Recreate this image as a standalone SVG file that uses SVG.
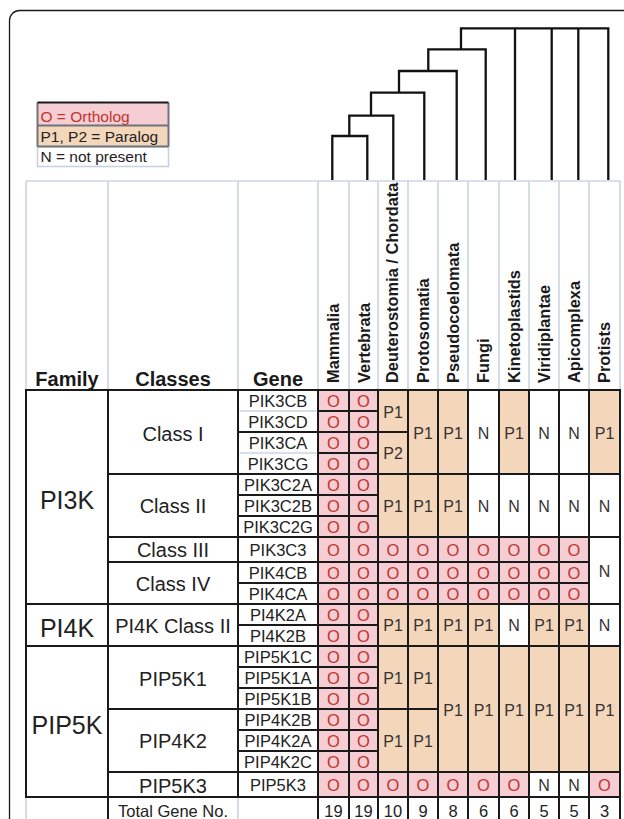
<svg xmlns="http://www.w3.org/2000/svg" width="624" height="819" viewBox="0 0 624 819">
<style>
.cell{stroke:#1a1a1a;stroke-width:2}
.o{fill:#f5cdd2}.p{fill:#f4d6bb}.w{fill:#fff}
.grid{stroke:#cbd6e2;stroke-width:1.6;fill:none}
.tree{stroke:#111;stroke-width:2.3;fill:none}
text{font-family:"Liberation Sans",Arial,sans-serif}
.to{font-size:16.5px;fill:#c0352f;text-anchor:middle}
.tp{font-size:16px;fill:#333;text-anchor:middle}
.tn{font-size:16.5px;fill:#222;text-anchor:middle}
.hd{font-size:20px;font-weight:bold;fill:#1a1a1a;text-anchor:middle}
.sp{font-size:16.4px;font-weight:bold;fill:#1a1a1a}
.fam{font-size:25px;fill:#222;text-anchor:middle}
.cls{font-size:20px;fill:#222;text-anchor:middle}
.gene{font-size:16.5px;fill:#222;text-anchor:middle}
.lg{font-size:15.5px}
</style>
<rect x="9.5" y="10.5" width="660" height="860" rx="10" fill="#fff" stroke="#1a1a1a" stroke-width="1.3"/>

<g id="legend">
<rect x="37.5" y="102.5" width="131" height="23" fill="#f5cdd2"/>
<rect x="37.5" y="125.5" width="131" height="21" fill="#f4d6bb"/>
<rect x="37.5" y="146.5" width="131" height="20" fill="#fff" stroke="#c5d3e3" stroke-width="1.6"/>
<path d="M37.5,102.5V146.5M168.5,102.5V146.5M37.5,125.5H168.5M37.5,146.5H168.5" stroke="#6e747c" stroke-width="2" fill="none"/>
<path d="M37.5,102.5H168.5" stroke="#1a1a1a" stroke-width="2.2"/>
<text x="40.5" y="121.5" class="lg" fill="#c0352f">O = Ortholog</text>
<text x="40.5" y="141.8" class="lg" fill="#222">P1, P2 = Paralog</text>
<text x="40.5" y="162.3" class="lg" fill="#222">N = not present</text>
</g>

<g id="connectors">
<path class="tree" d="M332.3,180V136H367.3V180M349.3,136V115.7H393.3V180M371,115.7V92.7H424.3V180M399,92.7V71H456.7V180M428.3,71V49.3H485.7V180M461,49.3V28.3H608.3V180M515,28.3V180M551.7,28.3V180M578.3,28.3V180"/>
</g>

<g id="header">
<path class="grid" d="M26,181H620M26,181V390M108,181V390M238,181V390M318,181V390M349,181V390M378,181V390M408,181V390M438,181V390M468,181V390M499,181V390M529,181V390M559,181V390M589,181V390M620,181V390"/>
<text x="67" y="386" class="hd">Family</text>
<text x="173" y="386" class="hd">Classes</text>
<text x="278" y="386" class="hd">Gene</text>
<text class="sp" transform="translate(338.5,383) rotate(-90)">Mammalia</text>
<text class="sp" transform="translate(369.5,383) rotate(-90)">Vertebrata</text>
<text class="sp" transform="translate(397.5,383) rotate(-90)">Deuterostomia / Chordata</text>
<text class="sp" transform="translate(428.5,383) rotate(-90)">Protosomatia</text>
<text class="sp" transform="translate(459,383) rotate(-90)">Pseudocoelomata</text>
<text class="sp" transform="translate(489,383) rotate(-90)">Fungi</text>
<text class="sp" transform="translate(520,383) rotate(-90)">Kinetoplastids</text>
<text class="sp" transform="translate(550,383) rotate(-90)">Viridiplantae</text>
<text class="sp" transform="translate(580,383) rotate(-90)">Apicomplexa</text>
<text class="sp" transform="translate(610,383) rotate(-90)">Protists</text>
</g>

<g id="families">
<rect class="cell w" x="26" y="390" width="82" height="214"/>
<rect class="cell w" x="26" y="604" width="82" height="42"/>
<rect class="cell w" x="26" y="646" width="82" height="151"/>
<text x="67" y="509" class="fam">PI3K</text>
<text x="67" y="637" class="fam">PI4K</text>
<text x="67" y="734" class="fam">PIP5K</text>
<path class="grid" d="M26,798V822"/>
</g>

<g id="classes">
<rect class="cell w" x="108" y="390" width="130" height="84"/>
<rect class="cell w" x="108" y="474" width="130" height="63"/>
<rect class="cell w" x="108" y="537" width="130" height="25"/>
<rect class="cell w" x="108" y="562" width="130" height="42"/>
<rect class="cell w" x="108" y="604" width="130" height="42"/>
<rect class="cell w" x="108" y="646" width="130" height="63"/>
<rect class="cell w" x="108" y="709" width="130" height="63"/>
<rect class="cell w" x="108" y="772" width="130" height="25"/>
<path class="grid" d="M238,798V822"/>
<path d="M108,797V822" stroke="#1a1a1a" stroke-width="2"/>
<text x="173" y="441" class="cls">Class I</text>
<text x="173" y="512.5" class="cls">Class II</text>
<text x="173" y="556.5" class="cls">Class III</text>
<text x="173" y="591" class="cls">Class IV</text>
<text x="173" y="633" class="cls">PI4K Class II</text>
<text x="173" y="686" class="cls">PIP5K1</text>
<text x="173" y="748.3" class="cls">PIP4K2</text>
<text x="173" y="793" class="cls">PIP5K3</text>
<text x="173" y="816.5" class="tn">Total Gene No.</text>
</g>

<g id="genes">
<rect class="cell w" x="238" y="390" width="80" height="42"/>
<rect class="cell w" x="238" y="432" width="80" height="42"/>
<rect class="cell w" x="238" y="474" width="80" height="21"/>
<rect class="cell w" x="238" y="495" width="80" height="21"/>
<rect class="cell w" x="238" y="516" width="80" height="21"/>
<rect class="cell w" x="238" y="537" width="80" height="25"/>
<rect class="cell w" x="238" y="562" width="80" height="21"/>
<rect class="cell w" x="238" y="583" width="80" height="21"/>
<rect class="cell w" x="238" y="604" width="80" height="21"/>
<rect class="cell w" x="238" y="625" width="80" height="21"/>
<rect class="cell w" x="238" y="646" width="80" height="21"/>
<rect class="cell w" x="238" y="667" width="80" height="21"/>
<rect class="cell w" x="238" y="688" width="80" height="21"/>
<rect class="cell w" x="238" y="709" width="80" height="21"/>
<rect class="cell w" x="238" y="730" width="80" height="21"/>
<rect class="cell w" x="238" y="751" width="80" height="21"/>
<rect class="cell w" x="238" y="772" width="80" height="25"/>
<path class="grid" d="M239.5,411H316.5M239.5,453H316.5"/>
<text x="278" y="406.5" class="gene">PIK3CB</text>
<text x="278" y="427.5" class="gene">PIK3CD</text>
<text x="278" y="448.5" class="gene">PIK3CA</text>
<text x="278" y="469.5" class="gene">PIK3CG</text>
<text x="278" y="490.5" class="gene">PIK3C2A</text>
<text x="278" y="511.5" class="gene">PIK3C2B</text>
<text x="278" y="532.5" class="gene">PIK3C2G</text>
<text x="278" y="555.5" class="gene">PIK3C3</text>
<text x="278" y="578.5" class="gene">PIK4CB</text>
<text x="278" y="599.5" class="gene">PIK4CA</text>
<text x="278" y="620.5" class="gene">PI4K2A</text>
<text x="278" y="641.5" class="gene">PI4K2B</text>
<text x="278" y="662.5" class="gene">PIP5K1C</text>
<text x="278" y="683.5" class="gene">PIP5K1A</text>
<text x="278" y="704.5" class="gene">PIP5K1B</text>
<text x="278" y="725.5" class="gene">PIP4K2B</text>
<text x="278" y="746.5" class="gene">PIP4K2A</text>
<text x="278" y="767.5" class="gene">PIP4K2C</text>
<text x="278" y="790.5" class="gene">PIP5K3</text>
</g>

<g id="col-mammalia">
<rect class="cell o" x="318" y="390" width="31" height="21"/><rect class="cell o" x="318" y="411" width="31" height="21"/>
<rect class="cell o" x="318" y="432" width="31" height="21"/><rect class="cell o" x="318" y="453" width="31" height="21"/>
<rect class="cell o" x="318" y="474" width="31" height="21"/><rect class="cell o" x="318" y="495" width="31" height="21"/>
<rect class="cell o" x="318" y="516" width="31" height="21"/><rect class="cell o" x="318" y="537" width="31" height="25"/>
<rect class="cell o" x="318" y="562" width="31" height="21"/><rect class="cell o" x="318" y="583" width="31" height="21"/>
<rect class="cell o" x="318" y="604" width="31" height="21"/><rect class="cell o" x="318" y="625" width="31" height="21"/>
<rect class="cell o" x="318" y="646" width="31" height="21"/><rect class="cell o" x="318" y="667" width="31" height="21"/>
<rect class="cell o" x="318" y="688" width="31" height="21"/><rect class="cell o" x="318" y="709" width="31" height="21"/>
<rect class="cell o" x="318" y="730" width="31" height="21"/><rect class="cell o" x="318" y="751" width="31" height="21"/>
<rect class="cell o" x="318" y="772" width="31" height="25"/>
<rect class="cell w" x="318" y="797" width="31" height="25"/>
<g class="to">
<text x="333.5" y="406.5">O</text><text x="333.5" y="427.5">O</text><text x="333.5" y="448.5">O</text><text x="333.5" y="469.5">O</text>
<text x="333.5" y="490.5">O</text><text x="333.5" y="511.5">O</text><text x="333.5" y="532.5">O</text><text x="333.5" y="555.5">O</text>
<text x="333.5" y="578.5">O</text><text x="333.5" y="599.5">O</text><text x="333.5" y="620.5">O</text><text x="333.5" y="641.5">O</text>
<text x="333.5" y="662.5">O</text><text x="333.5" y="683.5">O</text><text x="333.5" y="704.5">O</text><text x="333.5" y="725.5">O</text>
<text x="333.5" y="746.5">O</text><text x="333.5" y="767.5">O</text><text x="333.5" y="790.5">O</text>
</g>
<text x="333.5" y="816.5" class="tn">19</text>
</g>

<g id="col-vertebrata">
<rect class="cell o" x="349" y="390" width="29" height="21"/><rect class="cell o" x="349" y="411" width="29" height="21"/>
<rect class="cell o" x="349" y="432" width="29" height="21"/><rect class="cell o" x="349" y="453" width="29" height="21"/>
<rect class="cell o" x="349" y="474" width="29" height="21"/><rect class="cell o" x="349" y="495" width="29" height="21"/>
<rect class="cell o" x="349" y="516" width="29" height="21"/><rect class="cell o" x="349" y="537" width="29" height="25"/>
<rect class="cell o" x="349" y="562" width="29" height="21"/><rect class="cell o" x="349" y="583" width="29" height="21"/>
<rect class="cell o" x="349" y="604" width="29" height="21"/><rect class="cell o" x="349" y="625" width="29" height="21"/>
<rect class="cell o" x="349" y="646" width="29" height="21"/><rect class="cell o" x="349" y="667" width="29" height="21"/>
<rect class="cell o" x="349" y="688" width="29" height="21"/><rect class="cell o" x="349" y="709" width="29" height="21"/>
<rect class="cell o" x="349" y="730" width="29" height="21"/><rect class="cell o" x="349" y="751" width="29" height="21"/>
<rect class="cell o" x="349" y="772" width="29" height="25"/>
<rect class="cell w" x="349" y="797" width="29" height="25"/>
<g class="to">
<text x="363.5" y="406.5">O</text><text x="363.5" y="427.5">O</text><text x="363.5" y="448.5">O</text><text x="363.5" y="469.5">O</text>
<text x="363.5" y="490.5">O</text><text x="363.5" y="511.5">O</text><text x="363.5" y="532.5">O</text><text x="363.5" y="555.5">O</text>
<text x="363.5" y="578.5">O</text><text x="363.5" y="599.5">O</text><text x="363.5" y="620.5">O</text><text x="363.5" y="641.5">O</text>
<text x="363.5" y="662.5">O</text><text x="363.5" y="683.5">O</text><text x="363.5" y="704.5">O</text><text x="363.5" y="725.5">O</text>
<text x="363.5" y="746.5">O</text><text x="363.5" y="767.5">O</text><text x="363.5" y="790.5">O</text>
</g>
<text x="363.5" y="816.5" class="tn">19</text>
</g>

<g id="col-deuterostomia">
<rect class="cell p" x="378" y="390" width="30" height="42"/>
<rect class="cell p" x="378" y="432" width="30" height="42"/>
<rect class="cell p" x="378" y="474" width="30" height="63"/>
<rect class="cell o" x="378" y="537" width="30" height="25"/>
<rect class="cell o" x="378" y="562" width="30" height="21"/>
<rect class="cell o" x="378" y="583" width="30" height="21"/>
<rect class="cell p" x="378" y="604" width="30" height="42"/>
<rect class="cell p" x="378" y="646" width="30" height="63"/>
<rect class="cell p" x="378" y="709" width="30" height="63"/>
<rect class="cell o" x="378" y="772" width="30" height="25"/>
<rect class="cell w" x="378" y="797" width="30" height="25"/>
<g class="tp"><text x="393" y="417.5">P1</text><text x="393" y="459">P2</text><text x="393" y="511.5">P1</text><text x="393" y="631">P1</text><text x="393" y="683.5">P1</text><text x="393" y="746.5">P1</text></g>
<g class="to"><text x="393" y="555.5">O</text><text x="393" y="578.5">O</text><text x="393" y="599.5">O</text><text x="393" y="790.5">O</text></g>
<text x="393" y="816.5" class="tn">10</text>
</g>

<g id="col-protosomatia">
<rect class="cell p" x="408" y="390" width="30" height="84"/>
<rect class="cell p" x="408" y="474" width="30" height="63"/>
<rect class="cell o" x="408" y="537" width="30" height="25"/>
<rect class="cell o" x="408" y="562" width="30" height="21"/>
<rect class="cell o" x="408" y="583" width="30" height="21"/>
<rect class="cell p" x="408" y="604" width="30" height="42"/>
<rect class="cell p" x="408" y="646" width="30" height="63"/>
<rect class="cell p" x="408" y="709" width="30" height="63"/>
<rect class="cell o" x="408" y="772" width="30" height="25"/>
<rect class="cell w" x="408" y="797" width="30" height="25"/>
<g class="tp"><text x="423" y="438.5">P1</text><text x="423" y="511.5">P1</text><text x="423" y="631">P1</text><text x="423" y="683.5">P1</text><text x="423" y="746.5">P1</text></g>
<g class="to"><text x="423" y="555.5">O</text><text x="423" y="578.5">O</text><text x="423" y="599.5">O</text><text x="423" y="790.5">O</text></g>
<text x="423" y="816.5" class="tn">9</text>
</g>

<g id="col-pseudocoelomata">
<rect class="cell p" x="438" y="390" width="30" height="84"/>
<rect class="cell p" x="438" y="474" width="30" height="63"/>
<rect class="cell o" x="438" y="537" width="30" height="25"/>
<rect class="cell o" x="438" y="562" width="30" height="21"/>
<rect class="cell o" x="438" y="583" width="30" height="21"/>
<rect class="cell p" x="438" y="604" width="30" height="42"/>
<rect class="cell p" x="438" y="646" width="30" height="126"/>
<rect class="cell o" x="438" y="772" width="30" height="25"/>
<rect class="cell w" x="438" y="797" width="30" height="25"/>
<g class="tp"><text x="453" y="438.5">P1</text><text x="453" y="511.5">P1</text><text x="453" y="631">P1</text><text x="453" y="715.5">P1</text></g>
<g class="to"><text x="453" y="555.5">O</text><text x="453" y="578.5">O</text><text x="453" y="599.5">O</text><text x="453" y="790.5">O</text></g>
<text x="453" y="816.5" class="tn">8</text>
</g>

<g id="col-fungi">
<rect class="cell w" x="468" y="390" width="31" height="84"/>
<rect class="cell w" x="468" y="474" width="31" height="63"/>
<rect class="cell o" x="468" y="537" width="31" height="25"/>
<rect class="cell o" x="468" y="562" width="31" height="21"/>
<rect class="cell o" x="468" y="583" width="31" height="21"/>
<rect class="cell p" x="468" y="604" width="31" height="42"/>
<rect class="cell p" x="468" y="646" width="31" height="126"/>
<rect class="cell o" x="468" y="772" width="31" height="25"/>
<rect class="cell w" x="468" y="797" width="31" height="25"/>
<g class="tp"><text x="483.5" y="438.5">N</text><text x="483.5" y="511.5">N</text><text x="483.5" y="631">P1</text><text x="483.5" y="715.5">P1</text></g>
<g class="to"><text x="483.5" y="555.5">O</text><text x="483.5" y="578.5">O</text><text x="483.5" y="599.5">O</text><text x="483.5" y="790.5">O</text></g>
<text x="483.5" y="816.5" class="tn">6</text>
</g>

<g id="col-kinetoplastids">
<rect class="cell p" x="499" y="390" width="30" height="84"/>
<rect class="cell w" x="499" y="474" width="30" height="63"/>
<rect class="cell o" x="499" y="537" width="30" height="25"/>
<rect class="cell o" x="499" y="562" width="30" height="21"/>
<rect class="cell o" x="499" y="583" width="30" height="21"/>
<rect class="cell w" x="499" y="604" width="30" height="42"/>
<rect class="cell p" x="499" y="646" width="30" height="126"/>
<rect class="cell o" x="499" y="772" width="30" height="25"/>
<rect class="cell w" x="499" y="797" width="30" height="25"/>
<g class="tp"><text x="514" y="438.5">P1</text><text x="514" y="511.5">N</text><text x="514" y="631">N</text><text x="514" y="715.5">P1</text></g>
<g class="to"><text x="514" y="555.5">O</text><text x="514" y="578.5">O</text><text x="514" y="599.5">O</text><text x="514" y="790.5">O</text></g>
<text x="514" y="816.5" class="tn">6</text>
</g>

<g id="col-viridiplantae">
<rect class="cell w" x="529" y="390" width="30" height="84"/>
<rect class="cell w" x="529" y="474" width="30" height="63"/>
<rect class="cell o" x="529" y="537" width="30" height="25"/>
<rect class="cell o" x="529" y="562" width="30" height="21"/>
<rect class="cell o" x="529" y="583" width="30" height="21"/>
<rect class="cell p" x="529" y="604" width="30" height="42"/>
<rect class="cell p" x="529" y="646" width="30" height="126"/>
<rect class="cell w" x="529" y="772" width="30" height="25"/>
<rect class="cell w" x="529" y="797" width="30" height="25"/>
<g class="tp"><text x="544" y="438.5">N</text><text x="544" y="511.5">N</text><text x="544" y="631">P1</text><text x="544" y="715.5">P1</text><text x="544" y="790.5">N</text></g>
<g class="to"><text x="544" y="555.5">O</text><text x="544" y="578.5">O</text><text x="544" y="599.5">O</text></g>
<text x="544" y="816.5" class="tn">5</text>
</g>

<g id="col-apicomplexa">
<rect class="cell w" x="559" y="390" width="30" height="84"/>
<rect class="cell w" x="559" y="474" width="30" height="63"/>
<rect class="cell o" x="559" y="537" width="30" height="25"/>
<rect class="cell o" x="559" y="562" width="30" height="21"/>
<rect class="cell o" x="559" y="583" width="30" height="21"/>
<rect class="cell p" x="559" y="604" width="30" height="42"/>
<rect class="cell p" x="559" y="646" width="30" height="126"/>
<rect class="cell w" x="559" y="772" width="30" height="25"/>
<rect class="cell w" x="559" y="797" width="30" height="25"/>
<g class="tp"><text x="574" y="438.5">N</text><text x="574" y="511.5">N</text><text x="574" y="631">P1</text><text x="574" y="715.5">P1</text><text x="574" y="790.5">N</text></g>
<g class="to"><text x="574" y="555.5">O</text><text x="574" y="578.5">O</text><text x="574" y="599.5">O</text></g>
<text x="574" y="816.5" class="tn">5</text>
</g>

<g id="col-protists">
<rect class="cell p" x="589" y="390" width="31" height="84"/>
<rect class="cell w" x="589" y="474" width="31" height="63"/>
<rect class="cell w" x="589" y="537" width="31" height="67"/>
<rect class="cell w" x="589" y="604" width="31" height="42"/>
<rect class="cell p" x="589" y="646" width="31" height="126"/>
<rect class="cell o" x="589" y="772" width="31" height="25"/>
<rect class="cell w" x="589" y="797" width="31" height="25"/>
<g class="tp"><text x="604.5" y="438.5">P1</text><text x="604.5" y="511.5">N</text><text x="604.5" y="576.5">N</text><text x="604.5" y="631">N</text><text x="604.5" y="715.5">P1</text></g>
<text x="604.5" y="790.5" class="to">O</text>
<text x="604.5" y="816.5" class="tn">3</text>
</g>
</svg>
